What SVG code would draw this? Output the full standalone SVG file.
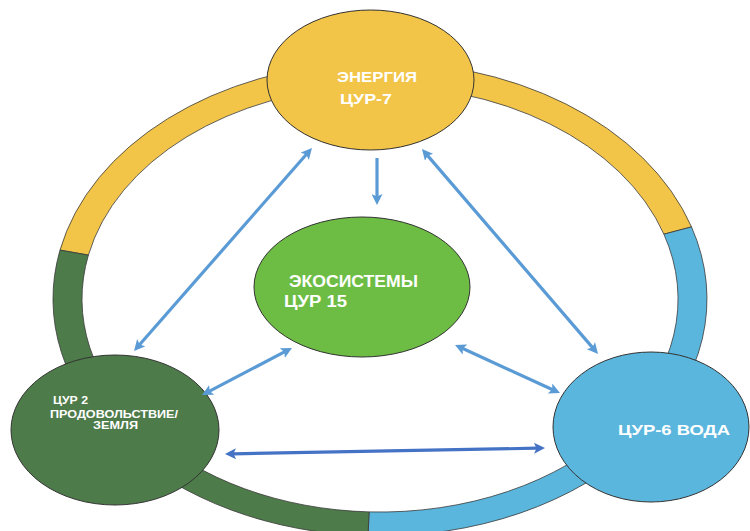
<svg xmlns="http://www.w3.org/2000/svg" width="750" height="531" viewBox="0 0 750 531">
  <style>
    .seg { stroke: #3a3a3a; stroke-width: 0.8; }
    .node { stroke: #333333; stroke-width: 1; }
    .lbl { font-family: "Liberation Sans", Arial, sans-serif; font-weight: bold; fill: #ffffff; }
    .arr { fill: none; stroke: #5B9BD5; stroke-width: 3.2; }
    .arr2 { fill: none; stroke: #4472C4; stroke-width: 3.2; }
  </style>
  <defs>
    <marker id="ah" viewBox="0 0 11 11" refX="3" refY="5.5" markerWidth="11" markerHeight="11" markerUnits="userSpaceOnUse" orient="auto-start-reverse">
      <path d="M0,0 L11,5.5 L0,11 L2.5,5.5 Z" fill="#5B9BD5"/>
    </marker>
    <marker id="ah2" viewBox="0 0 11 11" refX="3" refY="5.5" markerWidth="11" markerHeight="11" markerUnits="userSpaceOnUse" orient="auto-start-reverse">
      <path d="M0,0 L11,5.5 L0,11 L2.5,5.5 Z" fill="#4472C4"/>
    </marker>
  </defs>
  <rect width="750" height="531" fill="#ffffff"/>

  <g id="ring">
    <path class="seg" fill="#F2C447" d="M60,250.1 A327 237 0 0 1 691.5,226.9 L663.9,234.2 A298 213 0 0 0 88.4,255.1 Z"/>
    <path class="seg" fill="#5AB6DD" d="M691.5,226.9 A327 237 0 0 1 368,535.8 L369.1,511.9 A298 213 0 0 0 663.9,234.2 Z"/>
    <path class="seg" fill="#4E7B4A" d="M368,535.8 A327 237 0 0 1 60,250.1 L88.4,255.1 A298 213 0 0 0 369.1,511.9 Z"/>
  </g>

  <g id="energy">
    <ellipse class="node" cx="370.5" cy="80" rx="103.5" ry="70" fill="#F2C447"/>
    <text class="lbl" x="337" y="82" font-size="15" textLength="80" lengthAdjust="spacingAndGlyphs">ЭНЕРГИЯ</text>
    <text class="lbl" x="340" y="104" font-size="15" textLength="52" lengthAdjust="spacingAndGlyphs">ЦУР-7</text>
  </g>

  <g id="ecosystems">
    <ellipse class="node" cx="362" cy="287" rx="108" ry="70" fill="#6DBD45"/>
    <text class="lbl" x="289" y="287" font-size="16" textLength="129" lengthAdjust="spacingAndGlyphs">ЭКОСИСТЕМЫ</text>
    <text class="lbl" x="284" y="307" font-size="16" textLength="63" lengthAdjust="spacingAndGlyphs">ЦУР 15</text>
  </g>

  <g id="food">
    <ellipse class="node" cx="115" cy="430" rx="104" ry="75" fill="#4E7B4A"/>
    <text class="lbl" x="53" y="404" font-size="11" textLength="35" lengthAdjust="spacingAndGlyphs">ЦУР 2</text>
    <text class="lbl" x="50" y="418" font-size="11" textLength="128" lengthAdjust="spacingAndGlyphs">ПРОДОВОЛЬСТВИЕ/</text>
    <text class="lbl" x="93" y="429" font-size="11" textLength="45" lengthAdjust="spacingAndGlyphs">ЗЕМЛЯ</text>
  </g>

  <g id="water">
    <ellipse class="node" cx="651" cy="427" rx="98" ry="75" fill="#5AB6DD"/>
    <text class="lbl" x="618" y="435" font-size="15" textLength="112" lengthAdjust="spacingAndGlyphs">ЦУР-6 ВОДА</text>
  </g>

  <g id="connectors">
    <path class="arr" d="M377,158 L377,197" marker-end="url(#ah)"/>
    <path class="arr" d="M306.7,154 L139.3,345" marker-start="url(#ah)" marker-end="url(#ah)"/>
    <path class="arr" d="M427.2,155.1 L592.8,347.9" marker-start="url(#ah)" marker-end="url(#ah)"/>
    <path class="arr" d="M284.9,351.7 L209.1,391.3" marker-start="url(#ah)" marker-end="url(#ah)"/>
    <path class="arr" d="M462.3,348.3 L552.7,389.7" marker-start="url(#ah)" marker-end="url(#ah)"/>
    <path class="arr2" d="M233,453.8 L537,448.2" marker-start="url(#ah2)" marker-end="url(#ah2)"/>
  </g>
</svg>
